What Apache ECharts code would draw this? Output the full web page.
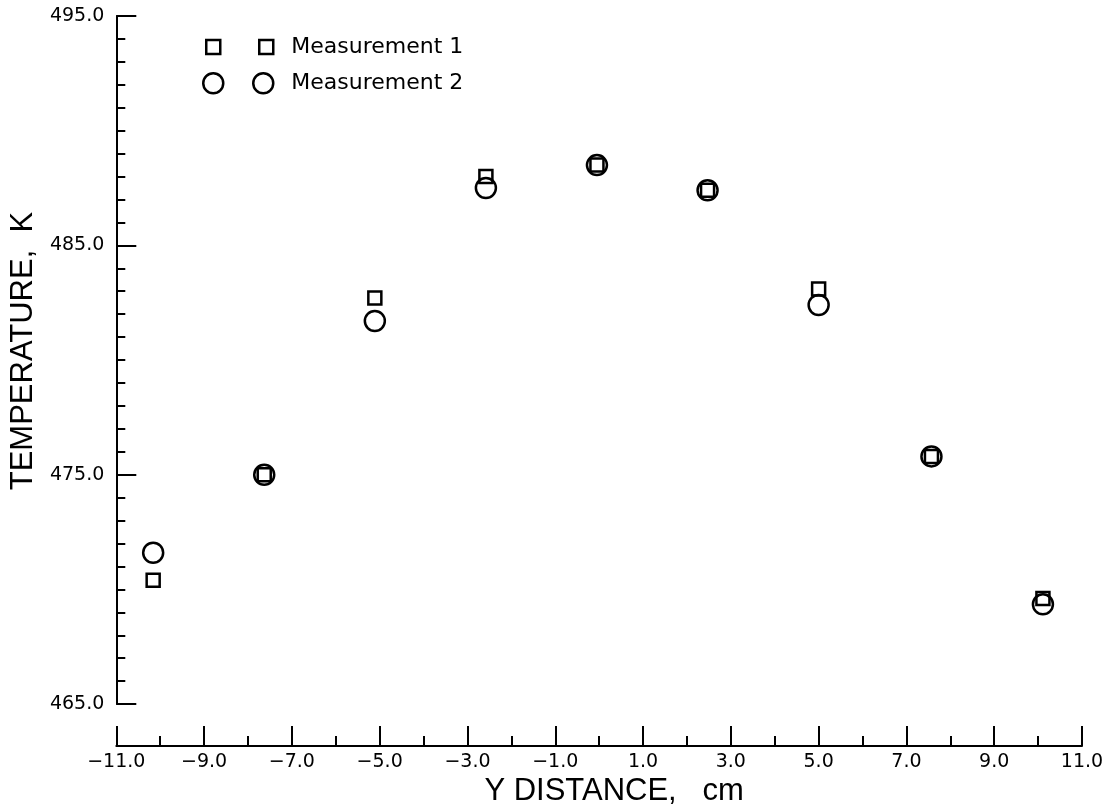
<!DOCTYPE html>
<html>
<head>
<meta charset="utf-8">
<script src="https://cdn.jsdelivr.net/npm/echarts@6/dist/echarts.min.js"></script>
<style>
html,body{margin:0;padding:0;background:#fff;}
#chart{width:1107px;height:812px;}
</style>
</head>
<body>
<div id="chart"></div>
<script>
// Data
var xDistance = [-10.16, -7.63, -5.11, -2.58, -0.05, 2.47, 5.0, 7.57, 10.11];
var measurement1 = [470.4, 475.0, 482.7, 488.0, 488.5, 487.4, 483.1, 475.8, 469.6];
var measurement2 = [471.6, 475.0, 481.7, 487.5, 488.5, 487.4, 482.4, 475.8, 469.35];
var seriesNames = ['Measurement 1', 'Measurement 2'];
var xTitle = 'Y DISTANCE,   cm';
var yTitle = 'TEMPERATURE,  K';

function pairs(xs, ys) {
  return xs.map(function (x, i) { return [x, ys[i]]; });
}

var chart = echarts.init(document.getElementById('chart'));
var tickFont = { fontFamily: 'DejaVu Sans', fontSize: 19, color: '#000' };
var squaresIcon = 'path://M0,0 H14 V14 H0 Z M53,0 H67 V14 H53 Z';
var circlesIcon = 'path://M0,10 A10,10 0 1,1 20,10 A10,10 0 1,1 0,10 Z M50,10 A10,10 0 1,1 70,10 A10,10 0 1,1 50,10 Z';
var markStyle = { color: 'rgba(0,0,0,0)', borderColor: '#000', borderWidth: 2.5, opacity: 1 };
var legendText = { fontFamily: 'DejaVu Sans', fontSize: 22, color: '#000' };

chart.setOption({
  animation: false,
  backgroundColor: '#fff',
  grid: { left: 115, right: 25, top: 16, bottom: 99, containLabel: false },
  legend: [
    {
      data: [seriesNames[0]], left: 205, top: 36, padding: 0, orient: 'vertical',
      icon: squaresIcon, itemWidth: 67, itemHeight: 14,
      itemStyle: markStyle,
      textStyle: Object.assign({ padding: [0, 0, 0, 13] }, legendText)
    },
    {
      data: [seriesNames[1]], left: 202, top: 72, padding: 0, orient: 'vertical',
      icon: circlesIcon, itemWidth: 70, itemHeight: 20,
      itemStyle: markStyle,
      textStyle: Object.assign({ padding: [0, 0, 0, 13] }, legendText)
    }
  ],
  xAxis: {
    type: 'value', min: -11, max: 11, interval: 2, offset: 42,
    name: xTitle, nameLocation: 'middle', nameGap: 27,
    nameTextStyle: { fontFamily: 'Liberation Sans', fontSize: 31, color: '#000', padding: [0, 0, 0, 30] },
    axisLine: { show: true, onZero: false, lineStyle: { color: '#000', width: 2 } },
    axisTick: { show: true, inside: true, length: 20, lineStyle: { color: '#000', width: 2 } },
    minorTick: { show: true, splitNumber: 2, length: 10, lineStyle: { color: '#000', width: 2 } },
    axisLabel: Object.assign({ margin: 6, formatter: function (v) { return (v < 0 ? '\u2212' : '') + Math.abs(v).toFixed(1); } }, tickFont),
    splitLine: { show: false }
  },
  yAxis: {
    type: 'value', min: 465, max: 495, interval: 10,
    name: yTitle, nameLocation: 'middle', nameGap: 74, nameRotate: 90,
    nameTextStyle: { fontFamily: 'Liberation Sans', fontSize: 31, color: '#000', padding: [0, 0, 0, 18] },
    axisLine: { show: true, onZero: false, lineStyle: { color: '#000', width: 2 } },
    axisTick: { show: true, inside: true, length: 20, lineStyle: { color: '#000', width: 2 } },
    minorTick: { show: true, splitNumber: 10, length: 9, lineStyle: { color: '#000', width: 2 } },
    axisLabel: Object.assign({ margin: 12, formatter: function (v) { return v.toFixed(1); } }, tickFont),
    splitLine: { show: false }
  },
  series: [
    {
      name: seriesNames[0], type: 'scatter', symbol: 'rect', symbolSize: 13,
      data: pairs(xDistance, measurement1),
      itemStyle: markStyle,
      z: 3
    },
    {
      name: seriesNames[1], type: 'scatter', symbol: 'circle', symbolSize: 20,
      data: pairs(xDistance, measurement2),
      itemStyle: markStyle,
      z: 2
    }
  ]
});
</script>
</body>
</html>
